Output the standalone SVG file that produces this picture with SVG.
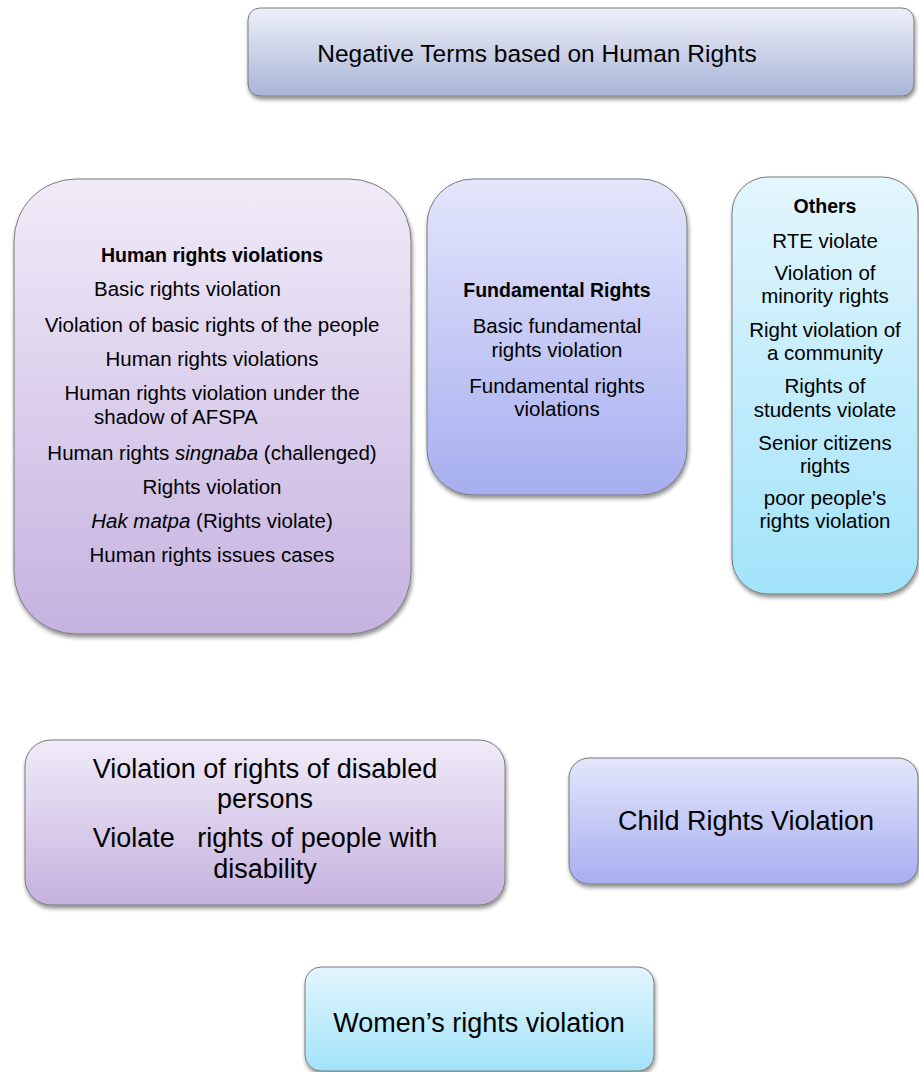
<svg xmlns="http://www.w3.org/2000/svg" width="919" height="1072" viewBox="0 0 919 1072">
  <defs>
    <linearGradient id="gGrey" x1="0" y1="0" x2="0" y2="1">
      <stop offset="0" stop-color="#eef0f8"/>
      <stop offset="1" stop-color="#a9b4d7"/>
    </linearGradient>
    <linearGradient id="gPurple" x1="0" y1="0" x2="0" y2="1">
      <stop offset="0" stop-color="#f0ebf8"/>
      <stop offset="1" stop-color="#c5b2df"/>
    </linearGradient>
    <linearGradient id="gBlue" x1="0" y1="0" x2="0" y2="1">
      <stop offset="0" stop-color="#e4e6fb"/>
      <stop offset="1" stop-color="#a7aef0"/>
    </linearGradient>
    <linearGradient id="gCyan" x1="0" y1="0" x2="0" y2="1">
      <stop offset="0" stop-color="#e3f6fd"/>
      <stop offset="1" stop-color="#a2e3fa"/>
    </linearGradient>
    <filter id="shadow" x="-10%" y="-10%" width="125%" height="125%">
      <feGaussianBlur in="SourceAlpha" stdDeviation="2"/>
      <feOffset dx="1" dy="3" result="b"/>
      <feComponentTransfer><feFuncA type="linear" slope="0.45"/></feComponentTransfer>
      <feMerge><feMergeNode/><feMergeNode in="SourceGraphic"/></feMerge>
    </filter>
  </defs>
  <style>
    .box { stroke: #7a7a7a; stroke-width: 1; filter: url(#shadow); }
    text { font-family: "Liberation Sans", Arial, sans-serif; fill: #000; }
    .s { font-size: 20.5px; text-anchor: middle; }
    .l { font-size: 20.5px; }
    .b { font-weight: bold; font-size: 19.5px; }
    .m { font-size: 27px; text-anchor: middle; }
    .t { font-size: 24.5px; text-anchor: middle; }
    .i { font-style: italic; }
  </style>

  <g id="connectors"/>

  <g id="title">
    <rect class="box" x="248" y="8" width="666" height="88" rx="12" fill="url(#gGrey)"/>
    <text class="t" x="537" y="62">Negative Terms based on Human Rights</text>
  </g>

  <g id="human-rights">
    <rect class="box" x="14" y="179" width="397" height="455" rx="62" fill="url(#gPurple)"/>
    <text class="s b" x="212" y="262">Human rights violations</text>
    <text class="l" x="94" y="296">Basic rights violation</text>
    <text class="s" x="212" y="332">Violation of basic rights of the people</text>
    <text class="s" x="212" y="366">Human rights violations</text>
    <text class="s" x="212" y="400">Human rights violation under the</text>
    <text class="l" x="94" y="424">shadow of AFSPA</text>
    <text class="s" x="212" y="460">Human rights <tspan class="i">singnaba</tspan> (challenged)</text>
    <text class="s" x="212" y="494">Rights violation</text>
    <text class="s" x="212" y="528"><tspan class="i">Hak matpa</tspan> (Rights violate)</text>
    <text class="s" x="212" y="562">Human rights issues cases</text>
  </g>

  <g id="fundamental-rights">
    <rect class="box" x="427" y="179" width="260" height="316" rx="46" fill="url(#gBlue)"/>
    <text class="s b" x="557" y="297">Fundamental Rights</text>
    <text class="s" x="557" y="333">Basic fundamental</text>
    <text class="s" x="557" y="357">rights violation</text>
    <text class="s" x="557" y="393">Fundamental rights</text>
    <text class="s" x="557" y="416">violations</text>
  </g>

  <g id="others">
    <rect class="box" x="732" y="177" width="186" height="417" rx="36" fill="url(#gCyan)"/>
    <text class="s b" x="825" y="213">Others</text>
    <text class="s" x="825" y="248">RTE violate</text>
    <text class="s" x="825" y="280">Violation of</text>
    <text class="s" x="825" y="303">minority rights</text>
    <text class="s" x="825" y="337">Right violation of</text>
    <text class="s" x="825" y="360">a community</text>
    <text class="s" x="825" y="393">Rights of</text>
    <text class="s" x="825" y="417">students violate</text>
    <text class="s" x="825" y="450">Senior citizens</text>
    <text class="s" x="825" y="473">rights</text>
    <text class="s" x="825" y="505">poor people's</text>
    <text class="s" x="825" y="528">rights violation</text>
  </g>

  <g id="disabled-persons">
    <rect class="box" x="25" y="740" width="480" height="165" rx="26" fill="url(#gPurple)"/>
    <text class="m" x="265" y="778">Violation of rights of disabled</text>
    <text class="m" x="265" y="808">persons</text>
    <text class="m" x="265" y="847" xml:space="preserve">Violate   rights of people with</text>
    <text class="m" x="265" y="878">disability</text>
  </g>

  <g id="child-rights">
    <rect class="box" x="569" y="758" width="349" height="126" rx="20" fill="url(#gBlue)"/>
    <text class="m" x="746" y="830">Child Rights Violation</text>
  </g>

  <g id="womens-rights">
    <rect class="box" x="305" y="967" width="349" height="104" rx="16" fill="url(#gCyan)"/>
    <text class="m" x="479" y="1032">Women’s rights violation</text>
  </g>
</svg>
